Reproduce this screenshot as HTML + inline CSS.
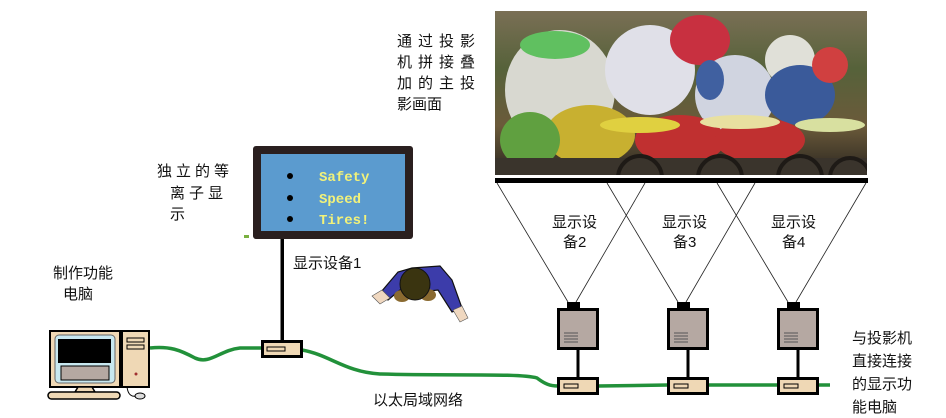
<!DOCTYPE html>
<html><head><meta charset="utf-8"><style>
html,body{margin:0;padding:0;background:#fff;}
svg{display:block;}
text{font-family:"Liberation Sans","Noto Sans CJK SC",sans-serif;fill:#111;}
</style></head><body>
<svg width="946" height="418" viewBox="0 0 946 418" xmlns="http://www.w3.org/2000/svg">
<defs>
<linearGradient id="pg" x1="0" y1="0" x2="0" y2="1">
<stop offset="0" stop-color="#7a6f55"/><stop offset="0.35" stop-color="#56623a"/><stop offset="0.7" stop-color="#6b5a3a"/><stop offset="1" stop-color="#2a2620"/>
</linearGradient>
<clipPath id="pc"><rect x="495" y="11" width="372" height="164"/></clipPath>
</defs>
<!-- photo -->
<g clip-path="url(#pc)">
<rect x="495" y="11" width="372" height="164" fill="url(#pg)"/>
<ellipse cx="560" cy="90" rx="55" ry="60" fill="#d8d8d0"/>
<ellipse cx="650" cy="70" rx="45" ry="45" fill="#e0e0e8"/>
<ellipse cx="700" cy="40" rx="30" ry="25" fill="#c83040"/>
<ellipse cx="735" cy="95" rx="40" ry="40" fill="#d0d4e0"/>
<ellipse cx="790" cy="60" rx="25" ry="25" fill="#e0e0d8"/>
<ellipse cx="800" cy="95" rx="35" ry="30" fill="#3a5a9a"/>
<ellipse cx="830" cy="65" rx="18" ry="18" fill="#d04040"/>
<ellipse cx="555" cy="45" rx="35" ry="14" fill="#60c060"/>
<ellipse cx="710" cy="80" rx="14" ry="20" fill="#4060a0"/>
<ellipse cx="590" cy="135" rx="45" ry="30" fill="#c8b030"/>
<ellipse cx="530" cy="140" rx="30" ry="28" fill="#60a040"/>
<ellipse cx="680" cy="140" rx="45" ry="25" fill="#c03030"/>
<ellipse cx="760" cy="140" rx="45" ry="22" fill="#c03030"/>
<ellipse cx="640" cy="125" rx="40" ry="8" fill="#e0d040"/>
<ellipse cx="740" cy="122" rx="40" ry="7" fill="#e8e0a0"/>
<ellipse cx="830" cy="125" rx="35" ry="7" fill="#d8e0a0"/>
<rect x="495" y="158" width="372" height="17" fill="#3a342c"/>
<g fill="none" stroke="#1e1a16" stroke-width="4">
<circle cx="640" cy="178" r="22"/><circle cx="720" cy="178" r="22"/><circle cx="800" cy="178" r="22"/><circle cx="850" cy="178" r="20"/>
</g>
</g>
<rect x="495" y="178" width="373" height="5" fill="#000"/>
<!-- projection lines -->
<g stroke="#222" stroke-width="0.8" fill="none">
<line x1="497" y1="183" x2="568" y2="302"/><line x1="645" y1="183" x2="576" y2="302"/>
<line x1="607" y1="183" x2="678" y2="302"/><line x1="755" y1="183" x2="686" y2="302"/>
<line x1="717" y1="183" x2="788" y2="302"/><line x1="866" y1="183" x2="796" y2="302"/>
</g>
<!-- cable -->
<path d="M150,348 C170,346 180,350 195,358 C210,365 220,350 240,348 L262,348 M302,350 C330,355 345,372 380,374 C450,376 520,373 537,378 C545,384 550,386 558,386 L598,386 L668,385 M708,385 L778,385 M818,385 L830,385" stroke="#22913a" stroke-width="3.5" fill="none"/>
<!-- projectors -->
<g id="pj">
<rect x="567" y="302" width="13" height="6" fill="#000"/>
<rect x="558.5" y="309.5" width="39" height="39" fill="#b5a8a2" stroke="#000" stroke-width="3"/>
<g stroke="#555" stroke-width="1"><line x1="564" y1="333" x2="578" y2="333"/><line x1="564" y1="336" x2="578" y2="336"/><line x1="564" y1="339" x2="578" y2="339"/><line x1="564" y1="342" x2="578" y2="342"/></g>
<rect x="576.5" y="349" width="3" height="28" fill="#000"/>
<rect x="558.5" y="378.5" width="39" height="15" fill="#efd8b5" stroke="#000" stroke-width="3"/>
<rect x="564" y="384" width="14" height="4" fill="none" stroke="#000" stroke-width="1"/>
</g>
<use href="#pj" x="110"/>
<use href="#pj" x="220"/>
<!-- screen -->
<rect x="253" y="146" width="160" height="93" rx="3" fill="#2a1f1f"/>
<rect x="261" y="154" width="144" height="77" fill="#5b9bcf"/>
<circle cx="290" cy="176" r="3" fill="#000"/><circle cx="290" cy="198" r="3" fill="#000"/><circle cx="290" cy="219" r="3" fill="#000"/>
<g font-weight="bold" font-size="14">
<text x="319" y="181" style="fill:#f2f27a;font-family:'Liberation Mono',monospace">Safety</text>
<text x="319" y="203" style="fill:#f2f27a;font-family:'Liberation Mono',monospace">Speed</text>
<text x="319" y="224" style="fill:#f2f27a;font-family:'Liberation Mono',monospace">Tires!</text>
</g>
<rect x="244" y="235" width="5" height="3" fill="#7ab040"/>
<rect x="280.5" y="239" width="3.5" height="101" fill="#000"/>
<rect x="262.5" y="341.5" width="39" height="15" fill="#efd8b5" stroke="#000" stroke-width="3"/>
<rect x="267" y="347" width="18" height="4" fill="none" stroke="#000" stroke-width="1"/>
<!-- person -->
<path d="M381,292 L398,272 L412,268 L440,266 L452,280 L462,308 L452,312 L438,290 L420,292 L400,290 L388,300 Z" fill="#3c3caa" stroke="#111" stroke-width="1.2"/>
<ellipse cx="402" cy="296" rx="8" ry="6" fill="#8a6a30"/><ellipse cx="428" cy="295" rx="8" ry="6" fill="#8a6a30"/>
<ellipse cx="415" cy="284" rx="15" ry="16" fill="#3a3410" stroke="#111" stroke-width="1"/>
<path d="M372,296 L382,290 L390,298 L380,304 Z" fill="#f0d8c0" stroke="#555" stroke-width="0.6"/>
<path d="M453,310 L462,306 L468,318 L460,322 Z" fill="#f0d8c0" stroke="#555" stroke-width="0.6"/>
<!-- computer -->
<rect x="50" y="331" width="70" height="56" fill="#efd8b5" stroke="#000" stroke-width="2"/>
<rect x="55" y="335" width="60" height="48" rx="4" fill="#c8e8f0" stroke="#666" stroke-width="1"/>
<rect x="58" y="339" width="53" height="24" fill="#000"/>
<rect x="61" y="366" width="48" height="14" fill="#b5a8a2" stroke="#000" stroke-width="1"/>
<rect x="122" y="331" width="27" height="56" fill="#efd8b5" stroke="#000" stroke-width="2"/>
<rect x="127" y="338" width="17" height="4" fill="none" stroke="#000" stroke-width="1"/>
<rect x="127" y="345" width="17" height="4" fill="none" stroke="#000" stroke-width="1"/>
<circle cx="136" cy="374" r="1.5" fill="#a03030"/>
<path d="M78,387 L92,387 L95,392 L75,392 Z" fill="#efd8b5" stroke="#000" stroke-width="1.5"/>
<rect x="48" y="392" width="72" height="7" rx="3.5" fill="#efd8b5" stroke="#000" stroke-width="1.5"/>
<path d="M127,387 C128,395 132,397 136,396" stroke="#000" fill="none" stroke-width="1"/>
<ellipse cx="140" cy="396" rx="5" ry="3" fill="#ddd" stroke="#000" stroke-width="1"/>
<!-- labels -->
<g font-size="15">
<text x="397" y="46" letter-spacing="6">通过投影</text>
<text x="397" y="67" letter-spacing="6">机拼接叠</text>
<text x="397" y="88" letter-spacing="6">加的主投</text>
<text x="397" y="109">影画面</text>
<text x="157" y="176" letter-spacing="4">独立的等</text>
<text x="170" y="198" letter-spacing="4">离子显</text>
<text x="170" y="219">示</text>
<text x="53" y="278">制作功能</text>
<text x="63" y="299">电脑</text>
<text x="293" y="268">显示设备1</text>
<text x="552" y="227">显示设</text><text x="563" y="247">备2</text>
<text x="662" y="227">显示设</text><text x="673" y="247">备3</text>
<text x="771" y="227">显示设</text><text x="782" y="247">备4</text>
<text x="852" y="343">与投影机</text>
<text x="852" y="366">直接连接</text>
<text x="852" y="389">的显示功</text>
<text x="852" y="412">能电脑</text>
<text x="373" y="405">以太局域网络</text>
</g>
</svg>
</body></html>
